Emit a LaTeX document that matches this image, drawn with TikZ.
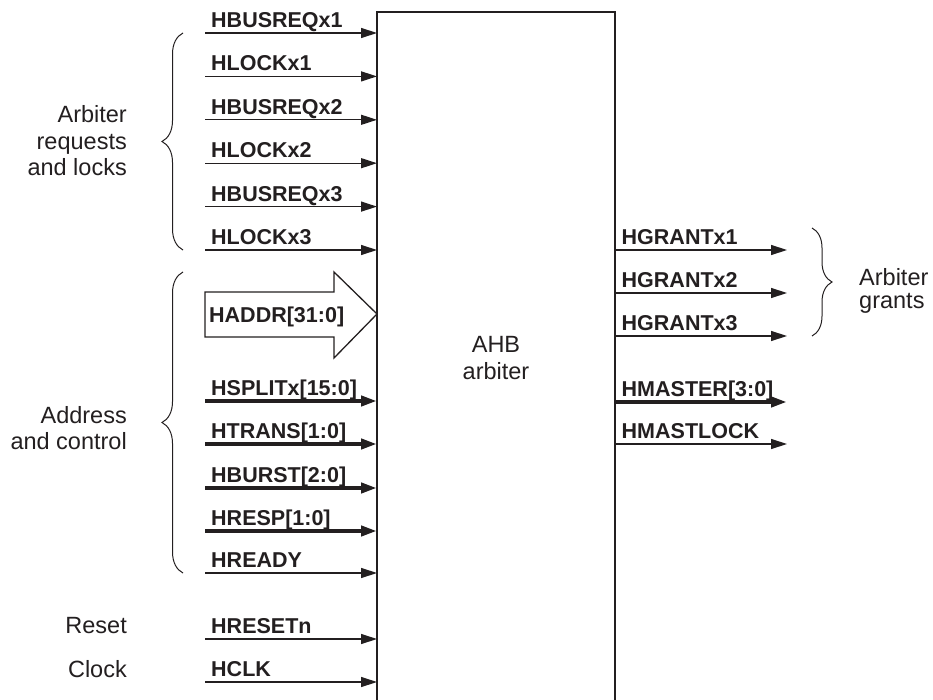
\documentclass[tikz,border=0pt]{standalone}
\usepackage{fontspec}
\setmainfont{Liberation Sans}
\usetikzlibrary{arrows.meta,decorations.pathreplacing}
\definecolor{ink}{HTML}{231F20}
\begin{document}
\begin{tikzpicture}[x=1pt,y=-1pt,
  sig/.style={draw=ink, line width=1.3pt, -{Triangle[length=16pt,width=10pt]}},
  bus/.style={sig, line width=4pt},
  sname/.style={anchor=base west, inner sep=0pt, text=ink, font=\fontsize{21.5}{24}\selectfont\bfseries},
  grp/.style={anchor=base east, inner sep=0pt, text=ink, font=\fontsize{23.5}{27}\selectfont},
  brc/.style={draw=ink, line width=1pt, decorate, decoration={brace, amplitude=21pt}},
]
\useasboundingbox (0,0) rectangle (933,700);
\clip (0,0) rectangle (933,700);
\node[draw=ink, line width=1.3pt, outer sep=0pt, minimum width=238pt, minimum height=692pt,
      anchor=north west, inner sep=0pt, align=center, text=ink,
      font=\fontsize{23.5}{27}\selectfont] (arb) at (377,12) {AHB\\arbiter};
% inputs
\foreach \t/\y/\s [count=\i] in {HBUSREQx1/33/sig, HLOCKx1/76.4/sig, HBUSREQx2/119.8/sig,
    HLOCKx2/163.2/sig, HBUSREQx3/206.6/sig, HLOCKx3/250/sig,
    HSPLITx[15:0]/401/bus, HTRANS[1:0]/444/bus, HBURST[2:0]/488/bus, HRESP[1:0]/531/bus,
    HREADY/573/sig, HRESETn/639/sig, HCLK/682/sig} {
  \coordinate (in\i) at (205,\y);
  \draw[\s] (in\i) -- (in\i -| arb.west);
  \node[sname] (lin\i) at (211,\y-5.5) {\t};
}
% outputs
\foreach \t/\y/\s [count=\i] in {HGRANTx1/250/sig, HGRANTx2/293/sig, HGRANTx3/336/sig,
    HMASTER[3:0]/402/bus, HMASTLOCK/444/sig} {
  \coordinate (out\i) at (787,\y);
  \draw[\s] (out\i -| arb.east) -- (out\i);
  \node[sname] (lout\i) at (621.5,\y-5.5) {\t};
}
% HADDR wide arrow
\coordinate (haddrtip) at (arb.west |- 0,314);
\draw[draw=ink, fill=white, line width=1.3pt, line join=miter]
  (205,292) -- (334,292) -- (334,272) -- (haddrtip) -- (334,358) -- (334,337) -- (205,337) -- cycle;
\node[sname] (haddr) at (209,322) {HADDR[31:0]};
% braces
\draw[brc] (183,250) -- (183,33);
\draw[brc] (183,573) -- (183,272);
\draw[brc, decoration={brace, amplitude=20pt}] (812,228) -- (812,336);
% group labels
\node[grp] (g1a) at (127,123) {Arbiter};
\node[grp] (g1b) at (127,150) {requests};
\node[grp] (g1c) at (127,176) {and locks};
\node[grp] (g2a) at (127,423) {Address};
\node[grp] (g2b) at (127,449) {and control};
\node[grp] (g3) at (127,633) {Reset};
\node[grp] (g4) at (127,677) {Clock};
\node[grp, anchor=base west] (g5a) at (859,286) {Arbiter};
\node[grp, anchor=base west] (g5b) at (859,308) {grants};
\end{tikzpicture}
\end{document}
